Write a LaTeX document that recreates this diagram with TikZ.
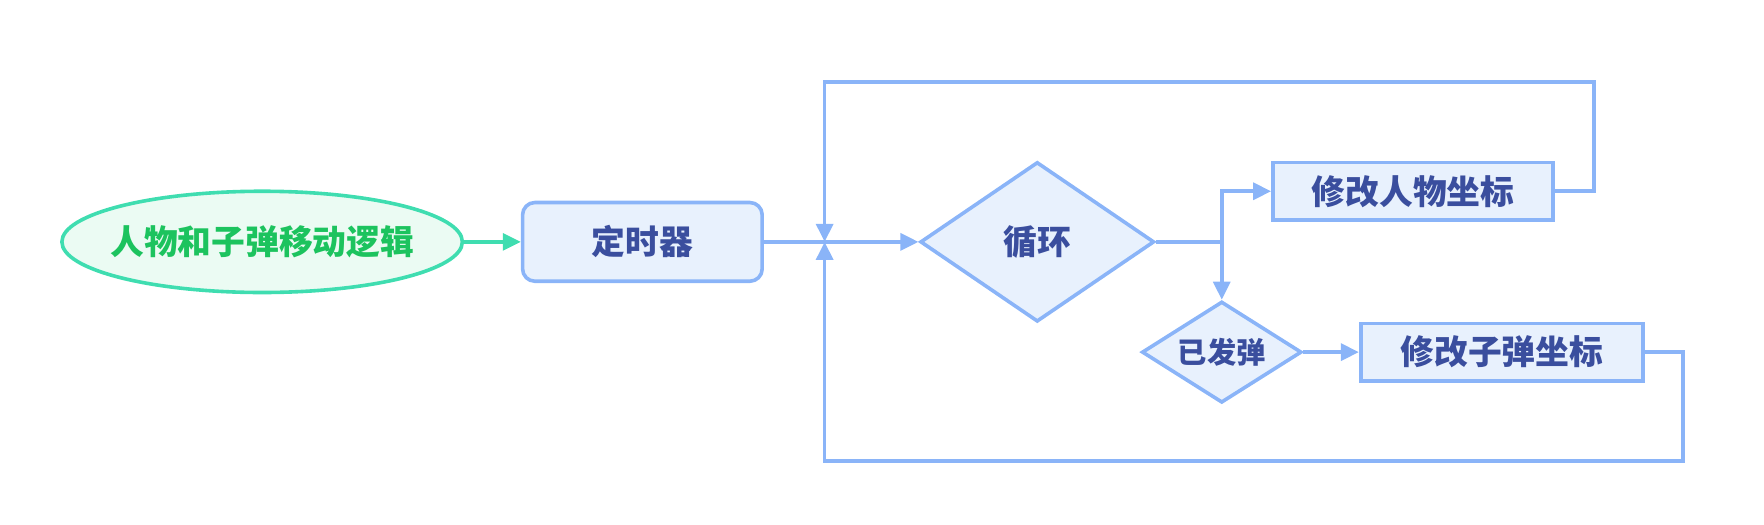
\documentclass[tikz,border=0pt]{standalone}
\usepackage{fontspec}
\newfontfamily\cjk[UprightFont={* Black}]{Noto Sans CJK SC}
\usetikzlibrary{shapes.geometric,arrows.meta}
\definecolor{bline}{HTML}{8AB4F8}
\definecolor{bfill}{HTML}{E8F1FD}
\definecolor{btext}{HTML}{3A4E9E}
\definecolor{gline}{HTML}{3FDDB0}
\definecolor{gfill}{HTML}{EBFBF3}
\definecolor{gtext}{HTML}{1CC35E}
\tikzset{
  base/.style={line width=3.2pt, inner sep=0pt, font=\cjk\fontsize{30}{34}\selectfont},
  bluebox/.style={base, draw=bline, fill=bfill, text=btext, rectangle},
  bluedia/.style={base, draw=bline, fill=bfill, text=btext, diamond, inner xsep=-25pt, inner ysep=-10pt},
  greenell/.style={base, draw=gline, fill=gfill, text=gtext, ellipse, inner xsep=-80pt, inner ysep=-10pt},
  conn/.style={draw=bline, line width=3.2pt, -{Triangle[length=16pt,width=15pt]}},
  gconn/.style={draw=gline, line width=3.2pt, -{Triangle[length=16pt,width=15pt]}},
  plain/.style={draw=bline, line width=3.2pt},
}
\begin{document}
\begin{tikzpicture}[x=1pt,y=-1pt]
\useasboundingbox (0,0) rectangle (1568,466);
\node[greenell, minimum width=356pt, minimum height=90pt] (ell) at (233,215) {人物和子弹移动逻辑};
\node[bluebox, rounded corners=11pt, minimum width=213pt, minimum height=70pt] (timer) at (571,215) {定时器};
\node[bluedia, minimum width=208pt, minimum height=142pt] (loop) at (922,215) {循环};
\node[bluebox, minimum width=249pt, minimum height=51pt] (modp) at (1256,170) {修改人物坐标};
\node[bluedia, minimum width=142pt, minimum height=90pt, font=\cjk\fontsize{26}{30}\selectfont] (fired) at (1086,313) {已发弹};
\node[bluebox, minimum width=251pt, minimum height=51pt] (modb) at (1335,313) {修改子弹坐标};
\coordinate (J) at (733,215);
\coordinate (B) at (1086,215);
\coordinate (tr) at (1417,73);
\coordinate (br) at (1496,410);
\draw[gconn] (ell.east) -- (timer.west);
\draw[conn] (timer.east) -- (loop.west);
\draw[plain] (loop.east) -- (B);
\draw[conn] (B) |- (modp.west);
\draw[conn] (B) -- (fired.north);
\draw[conn] (fired.east) -- (modb.west);
\draw[conn] (modp.east) -| (tr) -| (J);
\draw[conn] (modb.east) -| (br) -| (J);
\end{tikzpicture}
\end{document}
